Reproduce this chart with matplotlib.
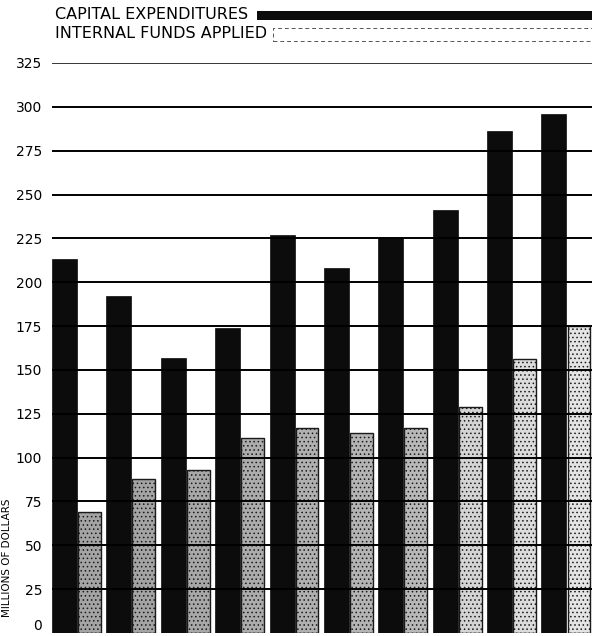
import matplotlib
matplotlib.use("Agg")
import matplotlib.pyplot as plt
from matplotlib.patches import Rectangle
import numpy as np

# capital expenditures vs internal funds applied, millions of dollars, ten years
capex = [213, 192, 157, 174, 227, 208, 225, 241, 286, 296]
internal = [69, 88, 93, 111, 117, 114, 117, 129, 156, 175]
yticks = [0, 25, 50, 75, 100, 125, 150, 175, 200, 225, 250, 275, 300, 325]

# stipple tone of the light bars, later years printed lighter
light_tone = ['#a4a4a4', '#a4a4a4', '#a8a8a8', '#acacac', '#b0b0b0',
              '#b4b4b4', '#b8b8b8', '#d4d4d4', '#dcdcdc', '#e4e4e4']

plt.rcParams['font.family'] = ['DejaVu Sans']
plt.rcParams['hatch.linewidth'] = 0.6

W, H = 592, 636
fig = plt.figure(figsize=(W / 100, H / 100), dpi=100)
ax = fig.add_axes([52 / W, 3 / H, (W - 52) / W, (633 - 63) / H])

x = np.arange(len(capex))
ax.bar(x, capex, width=0.46, align='edge', color='#0c0c0c',
       edgecolor='#0c0c0c', linewidth=0.5, zorder=2)
ax.bar(x + 0.48, internal, width=0.42, align='edge', color=light_tone,
       edgecolor='#1a1a1a', linewidth=1.0, hatch='....', zorder=2)

# rules across the chart, drawn over the bars
for v in yticks[1:]:
    ax.axhline(v, color='black', linewidth=1.4 if v < 325 else 1.1, zorder=3)

ax.set_xlim(0, 9.93)
ax.set_ylim(0, 325)
ax.set_yticks(yticks)
ax.set_yticklabels([str(v) for v in yticks], fontsize=10)
ax.tick_params(axis='y', length=0, pad=7)
ax.get_yticklabels()[0].set_verticalalignment('bottom')
ax.set_xticks([])
for s in ax.spines.values():
    s.set_visible(False)

fig.text(7 / W, (H - 558) / H, 'MILLIONS OF DOLLARS', rotation=90,
         fontsize=7.5, ha='center', va='center')

# legend: two text lines, each followed by its swatch running to the edge
t1 = fig.text(55 / W, (H - 19) / H, 'CAPITAL EXPENDITURES', fontsize=11.5,
              ha='left', va='baseline')
t2 = fig.text(55 / W, (H - 38) / H, 'INTERNAL FUNDS APPLIED', fontsize=11.5,
              ha='left', va='baseline')
fig.canvas.draw()
r = fig.canvas.get_renderer()
x1 = t1.get_window_extent(r).x1 + 9
x2 = t2.get_window_extent(r).x1 + 6
fig.patches.append(Rectangle((x1 / W, (H - 20) / H), (W - x1) / W, 9 / H,
                             transform=fig.transFigure, facecolor='#0c0c0c',
                             edgecolor='none'))
fig.patches.append(Rectangle((x2 / W, (H - 41) / H), (W - x2 + 2) / W, 13 / H,
                             transform=fig.transFigure, facecolor='white',
                             edgecolor='#555555', linewidth=0.7,
                             linestyle=(0, (4, 3))))

fig.savefig('out.png', dpi=100)
